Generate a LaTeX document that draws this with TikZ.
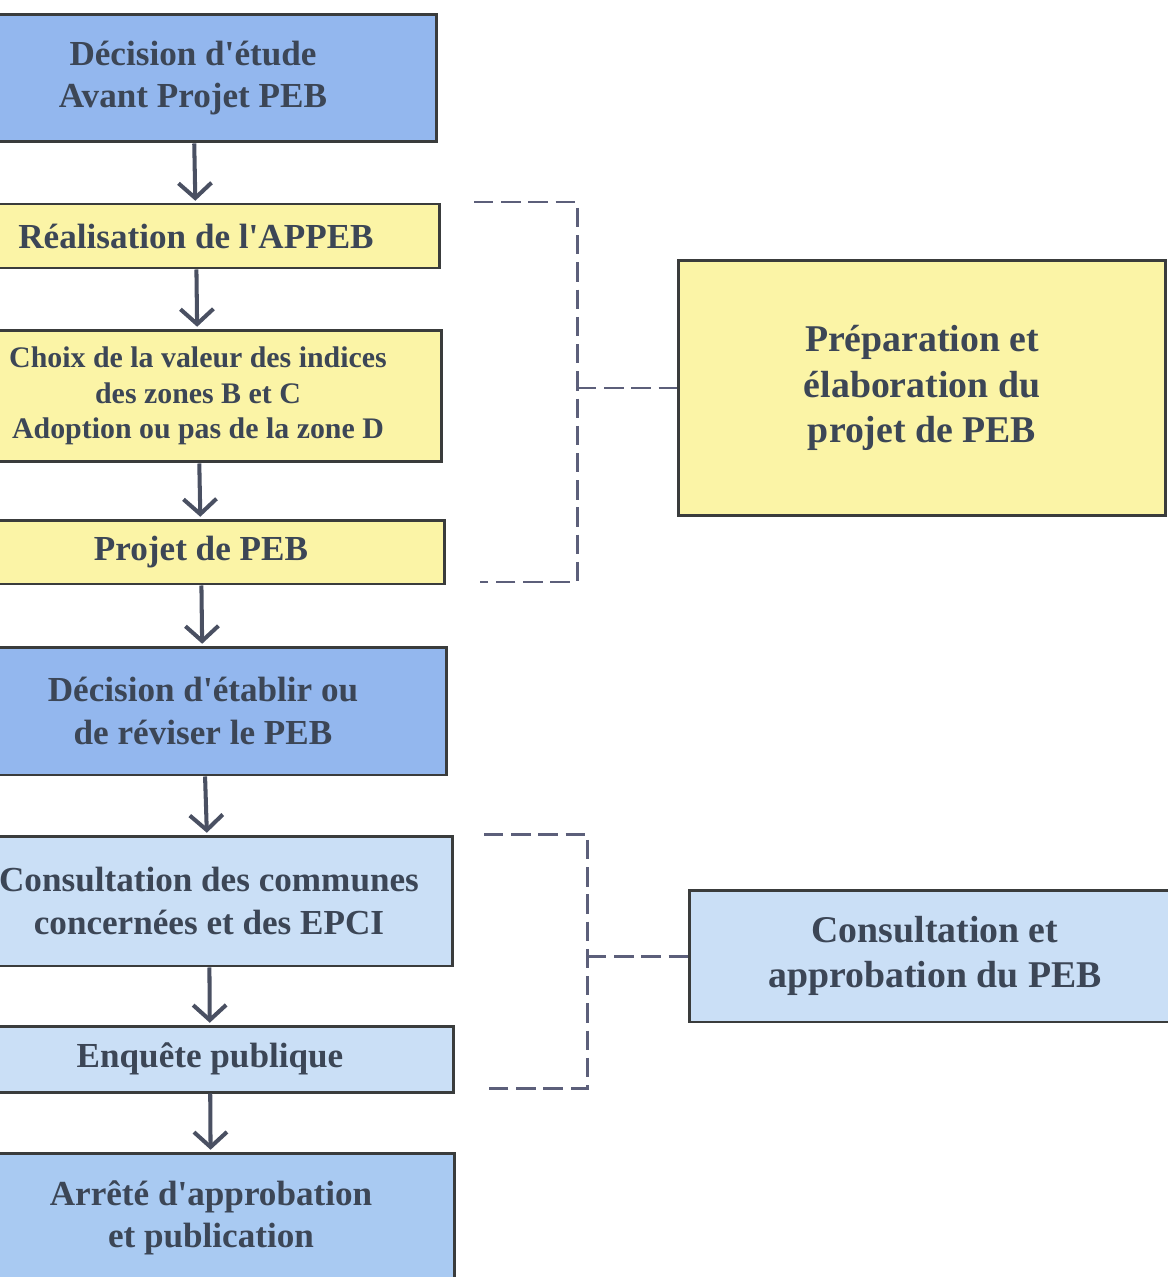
\documentclass[tikz,border=0pt]{standalone}
\usepackage{fontspec}
\setmainfont{Liberation Serif}
\usepackage{xcolor}
\usetikzlibrary{arrows.meta,positioning}
\definecolor{bleufonce}{HTML}{93B7EE}
\definecolor{bleumoyen}{HTML}{A9CAF2}
\definecolor{bleuclair}{HTML}{CADFF6}
\definecolor{jaune}{HTML}{FBF4A6}
\definecolor{cadre}{HTML}{3A3C3C}
\definecolor{texte}{HTML}{3C4656}
\definecolor{fleche}{HTML}{4A5062}
\definecolor{tirets}{HTML}{5C5F7A}
\newcommand{\apos}{\textquotesingle}

\tikzset{
  etape/.style={draw=cadre, line width=1.7pt, minimum width=9.76cm, align=center,
    text=texte, font=\bfseries\fontsize{20}{24}\selectfont},
  phase/.style={etape, minimum width=9.8cm, font=\bfseries\fontsize{21.5}{26}\selectfont},
  lien/.style={-{Straight Barb[length=0.3cm, width=0.66cm]}, draw=fleche, line width=2.3pt, shorten >=1pt},
  accolade/.style={draw=tirets, line width=1.7pt, dash pattern=on 11pt off 4.5pt}
}

\begin{document}
\begin{tikzpicture}[x=0.02cm,y=-0.02cm]
		\useasboundingbox (0,0) rectangle (1168,1277);
		\clip (0,0) rectangle (1168,1277);

		\node[etape,fill=bleufonce,minimum height=2.56cm] (etude) at (193,78) {D\'ecision d\apos\'etude\\Avant Projet PEB};
		\node[etape,fill=jaune,minimum height=1.28cm] (appeb) at (196,236) {R\'ealisation de l\apos APPEB};
		\node[etape,fill=jaune,minimum height=2.64cm,font=\bfseries\fontsize{17}{20.3}\selectfont] (choix) at (198,396) {Choix de la valeur des indices\\des zones B et C\\Adoption ou pas de la zone D};
		\node[etape,fill=jaune,minimum height=1.28cm] (projet) at (201,552) {Projet de PEB};
		\node[etape,fill=bleufonce,minimum height=2.56cm] (etablir) at (203,711) {D\'ecision d\apos\'etablir ou\\de r\'eviser le PEB};
		\node[etape,fill=bleuclair,minimum height=2.6cm] (communes) at (209,901) {Consultation des communes\\concern\'ees et des EPCI};
		\node[etape,fill=bleuclair,minimum height=1.32cm] (enquete) at (210,1059) {Enqu\^ete publique};
		\node[etape,fill=bleumoyen,minimum height=2.6cm] (arrete) at (211,1218) {Arr\^et\'e d\apos approbation\\et publication};

		\node[phase,fill=jaune,minimum width=9.74cm,minimum height=5.12cm] (prep) at (922,388) {Pr\'eparation et\\\'elaboration du\\projet de PEB};
		\node[phase,fill=bleuclair,minimum width=9.84cm,minimum height=2.64cm] (approb) at (935,956) {Consultation et\\approbation du PEB};

		\coordinate (h1) at (474,202);
		\coordinate (h1c) at (577,202);
		\coordinate (b1c) at (577,582);
		\coordinate (b1) at (480,582);
		\coordinate (m1) at (577,388);
		\coordinate (h2) at (484,834);
		\coordinate (h2c) at (587,834);
		\coordinate (b2c) at (587,1088);
		\coordinate (b2) at (488,1088);
		\coordinate (m2) at (587,956);

		\draw[lien] (etude) edge (appeb)
				(appeb) edge (choix)
				(choix) edge (projet)
				(projet) edge (etablir)
				(etablir) edge (communes)
				(communes) edge (enquete)
				(enquete) edge (arrete);

		\draw[accolade] (h1) -- (h1c) -- (b1c) -- (b1);
		\draw[accolade] (m1) -- (prep);
		\draw[accolade] (h2) -- (h2c) -- (b2c) -- (b2);
		\draw[accolade] (m2) -- (approb);
\end{tikzpicture}
\end{document}
